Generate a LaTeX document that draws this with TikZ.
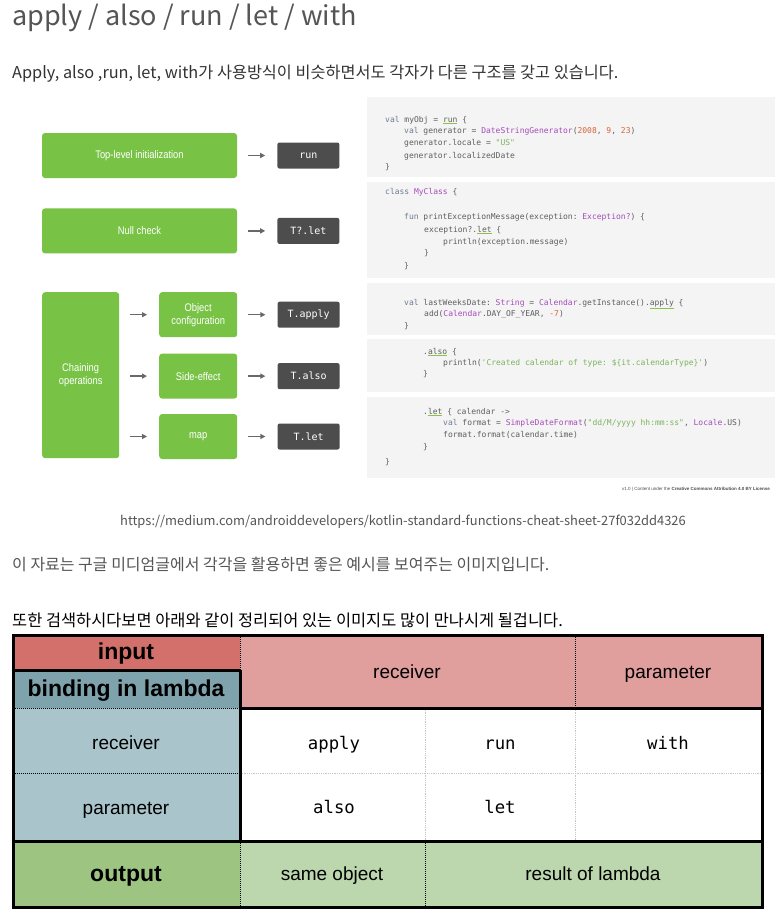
\documentclass[tikz,border=0pt]{standalone}
\usepackage{fontspec}
\setmonofont{DejaVu Sans Mono}
\newfontfamily\blogfont{Noto Sans CJK KR}
\newfontfamily\tabfont{Liberation Sans}
\newfontfamily\droidfont{Liberation Sans}[FakeStretch=0.85]
\usetikzlibrary{arrows.meta, positioning}
\definecolor{droidgreen}{HTML}{78C346}
\definecolor{darkfill}{HTML}{4D4D4D}
\definecolor{panelgray}{HTML}{F4F4F4}
\definecolor{codecol}{HTML}{5E5E5E}
\definecolor{kwcol}{HTML}{6E7B91}
\definecolor{tycol}{HTML}{A54BBA}
\definecolor{numcol}{HTML}{D9633A}
\definecolor{strcol}{HTML}{7CB45C}
\definecolor{ulcol}{HTML}{8BC34A}
\definecolor{titlecol}{HTML}{555555}
\definecolor{inputred}{HTML}{D4706B}
\definecolor{headpink}{HTML}{E09E9C}
\definecolor{bindteal}{HTML}{7FA3AD}
\definecolor{leftteal}{HTML}{A9C4CA}
\definecolor{outgreen}{HTML}{9EC482}
\definecolor{outlight}{HTML}{BCD7AD}
\newcommand\ckw[1]{\textcolor{kwcol}{#1}}
\newcommand\cty[1]{\textcolor{tycol}{#1}}
\newcommand\cnum[1]{\textcolor{numcol}{#1}}
\newcommand\cstr[1]{\textcolor{strcol}{#1}}
\newcommand\cfn[1]{\textcolor{ulcol}{\underline{\textcolor{codecol}{#1}}}}
\tikzset{greenbox/.style={rectangle,fill=droidgreen,rounded corners=3pt,text=white,align=center,inner sep=0pt,font=\droidfont\fontsize{11}{13}\selectfont},
         darkbox/.style={rectangle,fill=darkfill,rounded corners=2pt,text=white,inner sep=0pt,minimum width=62pt,minimum height=26pt,font=\ttfamily\fontsize{10}{12}\selectfont},
         panel/.style={fill=panelgray},
         code/.style={anchor=west,inner sep=0pt,text height=6pt,text depth=2pt,text=codecol,font=\ttfamily\fontsize{8}{10}\selectfont},
         blogtext/.style={anchor=base west,inner sep=0pt,font=\blogfont\fontsize{16}{19}\selectfont},
         cell/.style={inner sep=0pt,text height=14pt,text depth=4pt,font=\tabfont\fontsize{19}{22}\selectfont},
         headcell/.style={inner sep=0pt,text height=17pt,text depth=5pt,font=\tabfont\bfseries\fontsize{23}{26}\selectfont},
         fncell/.style={inner sep=0pt,text height=13pt,text depth=4pt,font=\ttfamily\fontsize{17.3}{20}\selectfont},
         thickline/.style={line width=3pt},
         darkdots/.style={densely dotted,line width=1pt},
         lightdots/.style={densely dotted,line width=0.8pt,gray!45},
         arrow/.style={-{Triangle[length=5pt,width=5pt]},line width=1.3pt,darkfill!85,shorten <=11pt,shorten >=12pt}}
\begin{document}
\begin{tikzpicture}[x=1pt,y=-1pt]
    \useasboundingbox (0,0) rectangle (784,919);
    \fill[white] (0,0) rectangle (784,919);
    % blog text
    \node[blogtext, font=\blogfont\fontsize{27}{32}\selectfont, text=titlecol] (title) at (12,25) {apply / also / run / let / with};
    \node[blogtext, font=\blogfont\fontsize{16.3}{19}\selectfont, text=black!80] (intro) at (12,78) {Apply, also ,run, let, with가 사용방식이 비슷하면서도 각자가 다른 구조를 갖고 있습니다.};
    % code panels
    \fill[panel] (367,97) rectangle (775,177);
    \fill[panel] (367,182) rectangle (775,278);
    \fill[panel] (367,283) rectangle (775,335);
    \fill[panel] (367,339) rectangle (775,392);
    \fill[panel] (367,397) rectangle (775,478);
    \node[code] (runA) at (385,120) {\ckw{val} myObj = \cfn{run} \{};
    \node[code] (runB) at (404,131) {\ckw{val} generator = \cty{DateStringGenerator}(\cnum{2008}, \cnum{9}, \cnum{23})};
    \node[code] (runC) at (404,143) {generator.locale = \cstr{"US"}};
    \node[code] (runD) at (404,156) {generator.localizedDate};
    \node[code] (runE) at (385,167) {\}};
    \node[code] (letA) at (385,192) {\ckw{class} \cty{MyClass} \{};
    \node[code] (letB) at (404,217) {\ckw{fun} printExceptionMessage(exception: \cty{Exception?}) \{};
    \node[code] (letC) at (424,230) {exception?.\cfn{let} \{};
    \node[code] (letD) at (443,242) {println(exception.message)};
    \node[code] (letE) at (424,253) {\}};
    \node[code] (letF) at (404,266) {\}};
    \node[code] (applyA) at (404,303) {\ckw{val} lastWeeksDate: \cty{String} = \cty{Calendar}.getInstance().\cfn{apply} \{};
    \node[code] (applyB) at (424,314) {add(\cty{Calendar}.DAY\_OF\_YEAR, \cnum{-7})};
    \node[code] (applyC) at (404,326) {\}};
    \node[code] (alsoA) at (423,352) {.\cfn{also} \{};
    \node[code] (alsoB) at (443,363) {println(\cstr{'Created calendar of type: \$\{it.calendarType\}'})};
    \node[code] (alsoC) at (423,374) {\}};
    \node[code] (mapA) at (423,412) {.\cfn{let} \{ calendar ->};
    \node[code] (mapB) at (443,423) {\ckw{val} format = \cty{SimpleDateFormat}(\cstr{"dd/M/yyyy hh:mm:ss"}, \cty{Locale}.US)};
    \node[code] (mapC) at (443,435) {format.format(calendar.time)};
    \node[code] (mapD) at (423,447) {\}};
    \node[code] (mapE) at (385,462) {\}};
    \node[anchor=west, inner sep=0pt, font=\tabfont\fontsize{4.5}{5}\selectfont, text=black!70] (credit) at (622,489) {v1.0 | Content under the \textbf{Creative Commons Attribution 4.0 BY License}};
    % use-case boxes
    \node[greenbox, minimum width=195pt, minimum height=45pt] (toplevel) at (139.5,155.5) {Top-level initialization};
    \node[darkbox, right=40pt of toplevel] (run) {run};
    \node[greenbox, minimum width=195pt, minimum height=45pt, below=30pt of toplevel] (nullcheck) {Null check};
    \node[darkbox, right=40pt of nullcheck] (tlet) {T?.let};
    \node[greenbox, minimum width=77pt, minimum height=166pt, anchor=north west] (chain) at (42,292) {Chaining\\operations};
    \node[greenbox, minimum width=78pt, minimum height=45pt, anchor=north west] (objconf) at (159,292) {Object\\configuration};
    \node[greenbox, minimum width=78pt, minimum height=45pt, below=16pt of objconf] (sideeff) {Side-effect};
    \node[greenbox, minimum width=78pt, minimum height=45pt, below=15pt of sideeff] (map) {map};
    \node[darkbox, right=40pt of objconf] (tapply) {T.apply};
    \node[darkbox, right=40pt of sideeff] (talso) {T.also};
    \node[darkbox, right=40pt of map] (tmap) {T.let};
    \draw[arrow] (toplevel) -- (run);
    \draw[arrow] (nullcheck) -- (tlet);
    \foreach \a/\b in {objconf/tapply, sideeff/talso, map/tmap}
      {\draw[arrow] (chain.east |- \a) -- (\a);
       \draw[arrow] (\a) -- (\b);}
    % source and comments
    \node[blogtext, anchor=base, font=\blogfont\fontsize{12.9}{16}\selectfont, text=titlecol] (url) at (403,525) {https://medium.com/androiddevelopers/kotlin-standard-functions-cheat-sheet-27f032dd4326};
    \node[blogtext, text=titlecol] (note1) at (12,570) {이 자료는 구글 미디엄글에서 각각을 활용하면 좋은 예시를 보여주는 이미지입니다.};
    \node[blogtext, font=\blogfont\fontsize{16.4}{19}\selectfont, text=black] (note2) at (12,626) {또한 검색하시다보면 아래와 같이 정리되어 있는 이미지도 많이 만나시게 될겁니다.};
    % table
    \fill[inputred] (13,635) rectangle (240,670);
    \fill[headpink] (240,635) rectangle (762,708);
    \fill[bindteal] (13,670) rectangle (240,708);
    \fill[leftteal] (13,708) rectangle (240,841);
    \fill[outgreen] (13,841) rectangle (240,907);
    \fill[outlight] (240,841) rectangle (762,907);
    \draw[lightdots] (425,708) -- (425,841) (575,708) -- (575,841) (240,773) -- (762,773);
    \draw[darkdots] (240,635) -- (240,670) (575,635) -- (575,708) (13,708) -- (240,708) (13,773) -- (240,773)
                    (240,841) -- (240,907) (425,841) -- (425,907);
    \draw[thickline] (13,670) -- (240,670) (240,670) -- (240,841) (240,708) -- (762,708) (13,841) -- (762,841);
    \draw[thickline] (13,635) rectangle (762,907);
    \node[headcell] (input) at (126,653) {input};
    \node[headcell] (binding) at (126,690) {binding in lambda};
    \node[cell] (recvL) at (126,744) {receiver};
    \node[cell] (paramL) at (126,809) {parameter};
    \node[cell] (recvH) at (407,673) {receiver};
    \node[cell] (paramH) at (668,673) {parameter};
    \node[fncell] (fapply) at (334,745) {apply};
    \node[fncell] (frun) at (500,745) {run};
    \node[fncell] (fwith) at (668,745) {with};
    \node[fncell] (falso) at (334,809) {also};
    \node[fncell] (flet) at (500,809) {let};
    \node[headcell] (output) at (126,875) {output};
    \node[cell] (sameobj) at (332,875) {same object};
    \node[cell] (result) at (593,875) {result of lambda};
\end{tikzpicture}
\end{document}
